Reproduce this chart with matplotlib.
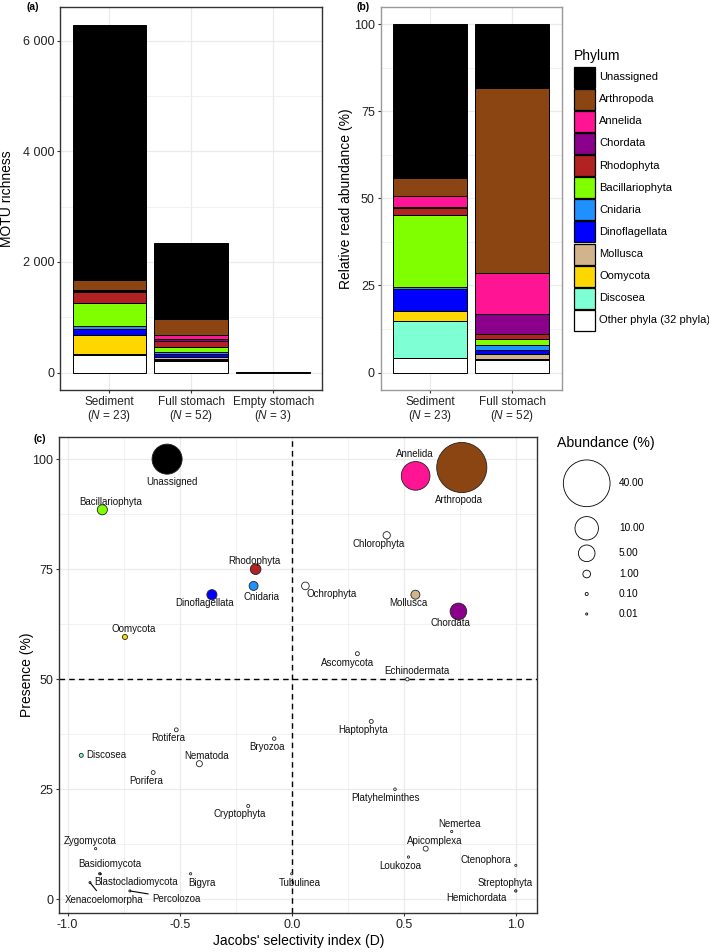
import matplotlib
matplotlib.use('Agg')
import matplotlib.pyplot as plt
import numpy as np
from matplotlib.patches import Rectangle

plt.rcParams['font.family'] = ['Liberation Sans', 'DejaVu Sans']
plt.rcParams['mathtext.fontset'] = 'custom'
plt.rcParams['mathtext.rm'] = 'Liberation Sans'
plt.rcParams['mathtext.it'] = 'Liberation Sans:italic'

# ---------------- data ----------------
phyla = ['Unassigned', 'Arthropoda', 'Annelida', 'Chordata', 'Rhodophyta',
         'Bacillariophyta', 'Cnidaria', 'Dinoflagellata', 'Mollusca',
         'Oomycota', 'Discosea', 'Other phyla (32 phyla)']

richness_groups = ['Sediment', 'Full stomach', 'Empty stomach']
richness_n = [23, 52, 3]
richness_sediment = [4610, 176, 35, 12, 195, 409, 62, 100, 8, 350, 10, 320]
richness_full = [1375, 277, 78, 43, 96, 104, 29, 61, 25, 25, 15, 212]
richness_empty = [8, 0, 0, 0, 0, 0, 0, 0, 0, 0, 0, 4]

abund_groups = ['Sediment', 'Full stomach']
abund_n = [23, 52]
abund_sediment = [44.3, 5.0, 3.3, 0.1, 2.2, 20.5, 0.6, 6.2, 0.1, 2.9, 10.5, 4.3]
abund_full = [18.3, 53.0, 12.0, 5.5, 1.7, 1.7, 1.2, 1.3, 1.3, 0.2, 0.2, 3.6]

sel_names = ['Unassigned', 'Arthropoda', 'Annelida', 'Chordata', 'Rhodophyta',
             'Bacillariophyta', 'Cnidaria', 'Dinoflagellata', 'Mollusca',
             'Oomycota', 'Discosea', 'Chlorophyta', 'Ochrophyta', 'Ascomycota',
             'Echinodermata', 'Haptophyta', 'Rotifera', 'Bryozoa', 'Nematoda',
             'Porifera', 'Cryptophyta', 'Platyhelminthes', 'Nemertea',
             'Apicomplexa', 'Loukozoa', 'Ctenophora', 'Streptophyta',
             'Hemichordata', 'Zygomycota', 'Basidiomycota',
             'Blastocladiomycota', 'Xenacoelomorpha', 'Percolozoa', 'Bigyra',
             'Tubulinea']
sel_D = [-0.556, 0.759, 0.553, 0.744, -0.161, -0.845, -0.170, -0.356, 0.552,
         -0.744, -0.939, 0.424, 0.061, 0.293, 0.516, 0.355, -0.515, -0.078,
         -0.412, -0.618, -0.194, 0.461, 0.714, 0.598, 0.521, 1.0, 1.0, 1.0,
         -0.875, -0.855, -0.857, -0.900, -0.722, -0.451, 0.0]
sel_presence = [100.0, 98.1, 96.2, 65.4, 75.0, 88.5, 71.2, 69.2, 69.2, 59.6,
                32.7, 82.7, 71.2, 55.8, 50.0, 40.4, 38.5, 36.5, 30.8, 28.8,
                21.2, 25.0, 15.4, 11.5, 9.6, 7.7, 1.9, 1.9, 11.5, 5.8, 5.8,
                3.8, 1.9, 5.8, 5.8]
sel_abund = [16.5, 46.0, 15.0, 5.0, 2.0, 1.8, 1.4, 1.8, 1.4, 0.4, 0.22, 0.9,
             1.0, 0.22, 0.15, 0.22, 0.2, 0.15, 0.6, 0.2, 0.1, 0.05, 0.02,
             0.38, 0.02, 0.01, 0.01, 0.01, 0.02, 0.01, 0.01, 0.01, 0.01, 0.02,
             0.005]

size_legend_values = [40.0, 10.0, 5.0, 1.0, 0.1, 0.01]

# ---------------- styling ----------------
colors = {'Unassigned': '#000000', 'Arthropoda': '#8B4513', 'Annelida': '#FF1493',
          'Chordata': '#8B008B', 'Rhodophyta': '#B22222', 'Bacillariophyta': '#7FFF00',
          'Cnidaria': '#1E90FF', 'Dinoflagellata': '#0000FF', 'Mollusca': '#D2B48C',
          'Oomycota': '#FFD700', 'Discosea': '#7FFFD4', 'Other phyla (32 phyla)': '#FFFFFF'}

# label offsets in pixels (dx right, dy down), alignment, segment flag
label_layout = {
    'Unassigned': (5, 22.7, 'center', False), 'Arthropoda': (-3, 32.6, 'center', False),
    'Annelida': (-1.2, -21.5, 'center', False), 'Chordata': (-8.3, 11.6, 'center', False),
    'Rhodophyta': (-1.7, -8.3, 'center', False), 'Bacillariophyta': (8.7, -7.6, 'center', False),
    'Cnidaria': (8, 10.7, 'center', False), 'Dinoflagellata': (-7.7, 8.4, 'center', False),
    'Mollusca': (-7.3, 8.4, 'center', False), 'Oomycota': (8.7, -8.4, 'center', False),
    'Discosea': (4.5, 0, 'left', False), 'Chlorophyta': (-8, 8.3, 'center', False),
    'Ochrophyta': (26.4, 8.3, 'center', False), 'Ascomycota': (-9.6, 9, 'center', False),
    'Echinodermata': (9.4, -8.3, 'center', False), 'Haptophyta': (-8, 8.3, 'center', False),
    'Rotifera': (-8, 8.3, 'center', False), 'Bryozoa': (-7.6, 8.4, 'center', False),
    'Nematoda': (7.4, -7.3, 'center', False), 'Porifera': (-7.3, 8.4, 'center', False),
    'Cryptophyta': (-8.3, 8.4, 'center', False), 'Platyhelminthes': (-9, 8.7, 'center', False),
    'Nemertea': (8.3, -7.7, 'center', False), 'Apicomplexa': (9, -8, 'center', False),
    'Loukozoa': (-8, 8.7, 'center', False), 'Ctenophora': (-4.7, -5, 'right', False),
    'Streptophyta': (-10.7, -8.3, 'center', False), 'Hemichordata': (-9.4, 7.3, 'right', False),
    'Zygomycota': (-5, -7.7, 'center', False), 'Basidiomycota': (10, -10, 'center', False),
    'Blastocladiomycota': (36.7, 8.5, 'center', True), 'Xenacoelomorpha': (13.7, 17, 'center', True),
    'Percolozoa': (46.7, 7.7, 'center', True), 'Bigyra': (11, 9.3, 'center', False),
    'Tubulinea': (8.3, 9.5, 'center', False),
}

W, H = 709, 952
fig = plt.figure(figsize=(W / 100, H / 100), dpi=100)


def rect(left, top, right, bottom):
    return [left / W, 1 - bottom / H, (right - left) / W, (bottom - top) / H]


def size_of(a):
    d_px = np.sqrt(54.5 * np.asarray(a) + 4.0)
    return (d_px * 0.72) ** 2


TICKC = '#333333'
LABC = '#222222'
GRID = '#EBEBEB'


def style_axes(ax, spine_color):
    for s in ax.spines.values():
        s.set_color(spine_color)
        s.set_linewidth(1.0)
    ax.tick_params(which='major', length=2.5, width=0.8, color=TICKC, labelcolor=LABC,
                   labelsize=9, pad=2)
    ax.tick_params(which='minor', length=0)
    ax.grid(which='major', color=GRID, lw=0.9)
    ax.grid(which='minor', color=GRID, lw=0.5)
    ax.set_axisbelow(True)


def cat_label(name, n):
    return name + '\n(' + r'$N$' + ' = %d)' % n


order_bottom = phyla[::-1]

# ---------------- panel (a) ----------------
ax_a = fig.add_axes(rect(60.3, 6.7, 322.3, 390))
style_axes(ax_a, '#333333')
groups_a = [richness_sediment, richness_full, richness_empty]
xa = np.arange(1, len(richness_groups) + 1)
for gi, vals in enumerate(groups_a):
    d = dict(zip(phyla, vals))
    bottom = 0
    for p in order_bottom:
        v = d[p]
        if v > 0:
            ax_a.bar(xa[gi], v, bottom=bottom, width=0.9, color=colors[p],
                     edgecolor='black', linewidth=0.7)
        bottom += v
ax_a.set_xlim(0.4, 3.6)
ax_a.set_ylim(-315, 6615)
ax_a.set_yticks([0, 2000, 4000, 6000])
ax_a.set_yticklabels(['0', '2 000', '4 000', '6 000'])
ax_a.set_yticks([1000, 3000, 5000], minor=True)
ax_a.set_xticks(xa)
ax_a.set_xticklabels([cat_label(g, n) for g, n in zip(richness_groups, richness_n)],
                     fontsize=8.5, linespacing=1.0)
ax_a.set_ylabel('MOTU richness', fontsize=10, color='black')
ax_a.yaxis.set_label_coords(-(60.3 - 13.8) / 262, 0.5)

# ---------------- panel (b) ----------------
ax_b = fig.add_axes(rect(381, 6.7, 561.7, 390))
style_axes(ax_b, '#999999')
groups_b = [abund_sediment, abund_full]
xb = np.arange(1, len(abund_groups) + 1)
for gi, vals in enumerate(groups_b):
    d = dict(zip(phyla, vals))
    bottom = 0
    for p in order_bottom:
        v = d[p]
        if v > 0:
            ax_b.bar(xb[gi], v, bottom=bottom, width=0.9, color=colors[p],
                     edgecolor='black', linewidth=0.7)
        bottom += v
ax_b.set_xlim(0.4, 2.6)
ax_b.set_ylim(-5, 105)
ax_b.set_yticks([0, 25, 50, 75, 100])
ax_b.set_yticks([12.5, 37.5, 62.5, 87.5], minor=True)
ax_b.set_xticks(xb)
ax_b.set_xticklabels([cat_label(g, n) for g, n in zip(abund_groups, abund_n)],
                     fontsize=8.5, linespacing=1.0)
ax_b.set_ylabel('Relative read abundance (%)', fontsize=10, color='black')
ax_b.yaxis.set_label_coords(-(381 - 352.5) / 180.7, 0.5)

# ---------------- panel (c) ----------------
ax_c = fig.add_axes(rect(59.3, 436.7, 537.3, 912.7))
style_axes(ax_c, '#333333')
ax_c.set_xlim(-1.037, 1.096)
ax_c.set_ylim(-3.05, 105.1)
ax_c.set_xticks([-1.0, -0.5, 0.0, 0.5, 1.0])
ax_c.set_xticklabels(['-1.0', '-0.5', '0.0', '0.5', '1.0'])
ax_c.set_xticks([-0.75, -0.25, 0.25, 0.75], minor=True)
ax_c.set_yticks([0, 25, 50, 75, 100])
ax_c.set_yticks([12.5, 37.5, 62.5, 87.5], minor=True)
ax_c.axvline(0, color='black', ls=(0, (4, 3)), lw=1.0, zorder=1.5)
ax_c.axhline(50, color='black', ls=(0, (4, 3)), lw=1.0, zorder=1.5)
fills = [colors.get(n, '#FFFFFF') for n in sel_names]
order = np.argsort(sel_abund)[::-1]
ax_c.scatter(np.array(sel_D)[order], np.array(sel_presence)[order],
             s=size_of(np.array(sel_abund)[order]), c=[fills[i] for i in order],
             edgecolors='#222222', linewidths=0.6, zorder=3)
for name, xd, yd in zip(sel_names, sel_D, sel_presence):
    dx, dy, ha, seg = label_layout[name]
    kw = {}
    if seg:
        kw['arrowprops'] = dict(arrowstyle='-', color='black', lw=0.8,
                                shrinkA=1, shrinkB=0)
    ax_c.annotate(name, (xd, yd), xytext=(dx, -dy), textcoords='offset pixels',
                  ha=ha, va='center', fontsize=7, color='#111111', zorder=4, **kw)
ax_c.set_xlabel("Jacobs' selectivity index (D)", fontsize=10, color='black')
ax_c.xaxis.set_label_coords(0.5, -(934.5 - 912.7) / 476)
ax_c.set_ylabel('Presence (%)', fontsize=10, color='black')
ax_c.yaxis.set_label_coords(-(59.3 - 33.5) / 478, 0.5)

# ---------------- overlay (legends, panel tags) ----------------
ov = fig.add_axes([0, 0, 1, 1])
ov.set_xlim(0, W)
ov.set_ylim(H, 0)
ov.axis('off')
ov.patch.set_alpha(0)

ov.text(33, 7, '(a)', fontsize=7.5, fontweight='bold', ha='center', va='center')
ov.text(363.5, 7, '(b)', fontsize=7.5, fontweight='bold', ha='center', va='center')
ov.text(40, 439.5, '(c)', fontsize=7.5, fontweight='bold', ha='center', va='center')

# Phylum legend
ov.text(574.3, 55.7, 'Phylum', fontsize=10, ha='left', va='center')
for i, p in enumerate(phyla):
    top = 66.7 + 22.1 * i
    ov.add_patch(Rectangle((574.3, top), 20.7, 21, facecolor=colors[p],
                           edgecolor='black', lw=0.9))
    ov.text(599, top + 10.5, p, fontsize=8, ha='left', va='center')

# Size legend
ov.text(557.3, 442.7, 'Abundance (%)', fontsize=10.2, ha='left', va='center')
leg_y = [483.3, 528.3, 553.3, 574, 594, 614]
ov.scatter([586.7] * len(size_legend_values), leg_y, s=size_of(size_legend_values),
           facecolors='white', edgecolors='black', linewidths=0.6)
for v, y in zip(size_legend_values, leg_y):
    ov.text(619, y, '%.2f' % v, fontsize=7.3, ha='left', va='center')

fig.savefig('out.png', dpi=100)
